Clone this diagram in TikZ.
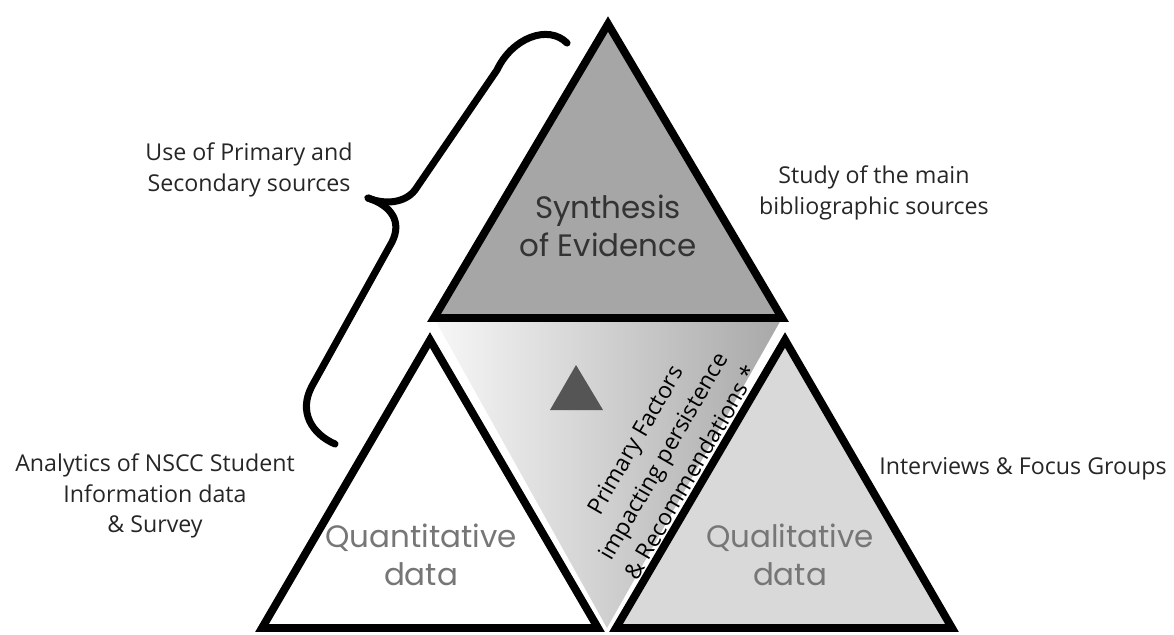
\documentclass[tikz,border=0pt]{standalone}
\usepackage{fontspec}
\setmainfont{Open Sans}
\newfontfamily\titlefont{Poppins}
\usetikzlibrary{calc}

\definecolor{topgray}{HTML}{A6A6A6}
\definecolor{qualgray}{HTML}{D9D9D9}
\definecolor{midlight}{HTML}{F7F7F7}
\definecolor{middark}{HTML}{A8A8A8}
\definecolor{labgray}{HTML}{767676}
\definecolor{darktext}{HTML}{333333}
\definecolor{markgray}{HTML}{555555}

\begin{document}
\begin{tikzpicture}[
  x=0.025cm, y=-0.025cm,
  every node/.style={align=center},
  edge/.style={draw=black, line width=5.6pt, line join=miter},
  note/.style={font=\fontsize{16.5}{21.5}\selectfont, text=black!85},
  title/.style={font=\titlefont\fontsize{22}{27.5}\selectfont},
  sidetext/.style={font=\fontsize{16.3}{23}\selectfont, text=black},
  bracestroke/.style={line width=5pt, line cap=round}
]
\useasboundingbox (0,0) rectangle (1174,634);

% --- Corners
\coordinate (apex) at (608,24);
\coordinate (tl)   at (434,318);
\coordinate (tr)   at (782,318);
\coordinate (mid)  at (607,628);

\coordinate (lapex) at (430,340);
\coordinate (lbl)   at (262,628);
\coordinate (lbr)   at (598,628);

\coordinate (rapex) at (785,340);
\coordinate (rbl)   at (616,628);
\coordinate (rbr)   at (952,628);

% --- Middle (shaded) triangle
\shade[left color=midlight, right color=middark] (tl) -- (tr) -- (mid) -- cycle;
\fill[markgray] (576,365) -- (603,410) -- (550,410) -- cycle;

% --- Bottom triangles
\filldraw[edge, fill=white]    (lapex) -- (lbr) -- (lbl) -- cycle;
\filldraw[edge, fill=qualgray] (rapex) -- (rbr) -- (rbl) -- cycle;

% --- Top triangle
\filldraw[edge, fill=topgray] (apex) -- (tr) -- (tl) -- cycle;

% --- Labels inside
\node[title, text=darktext] (synth) at (608,226) {Synthesis\\of Evidence};
\node[title, text=labgray]  (quant) at (421,555) {Quantitative\\data};
\node[title, text=labgray]  (qual)  at (790,555) {Qualitative\\data};
\node[sidetext, rotate=60]  (factors) at (663,456)
  {Primary Factors\\impacting persistence\\\& Recommendations *};

% --- Labels outside
\node[note] (sources)    at (249,170) {Use of Primary and\\Secondary sources};
\node[note] (study)      at (874,193) {Study of the main\\bibliographic sources};
\node[note] (analytics)  at (155,496) {Analytics of NSCC Student\\Information data\\\& Survey};
\node[note] (interviews) at (1023,469) {Interviews \& Focus Groups};

% --- Brace
\draw[bracestroke] (567,43) .. controls (548,24) and (512,38) .. (497,70)
  -- (415,190) .. controls (405,203) and (385,205) .. (368,198);
\draw[bracestroke] (368,198) .. controls (392,206) and (402,222) .. (392,242)
  -- (312,386) .. controls (298,412) and (312,434) .. (335,444);

\end{tikzpicture}
\end{document}
